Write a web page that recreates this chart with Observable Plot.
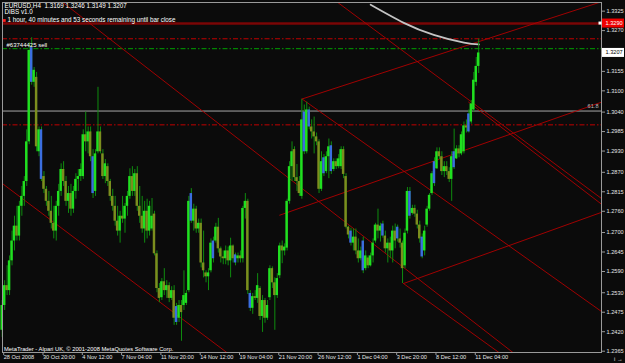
<!DOCTYPE html>
<html><head><meta charset="utf-8">
<script src="https://cdn.jsdelivr.net/npm/d3@7"></script>
<script src="https://cdn.jsdelivr.net/npm/@observablehq/plot@0.6"></script>
<style>
html,body{margin:0;padding:0;background:#0b0b0b;overflow:hidden;}
svg{display:block;}
</style></head><body>
<div id="chart"></div>
<script>
// EURUSD H4 bars, 28 Oct 2008 04:00 onwards (bar index = 4-hour bar number)
const opens = [
1.2424,1.2494,1.2550,1.2536,1.2620,1.2676,1.2718,1.2690,1.2774,1.2802,
1.2844,1.2956,1.3222,1.3124,1.3138,1.2928,1.2990,1.2858,1.2822,1.2788,
1.2760,1.2726,1.2704,1.2774,1.2816,1.2878,1.2844,1.2788,1.2810,1.2766,
1.2816,1.2850,1.2858,1.2858,1.2976,1.2956,1.2984,1.2914,1.2816,1.2928,
1.2984,1.2922,1.2858,1.2886,1.2844,1.2802,1.2774,1.2732,1.2704,1.2746,
1.2738,1.2774,1.2802,1.2858,1.2816,1.2866,1.2774,1.2746,1.2710,1.2760,
1.2704,1.2710,1.2752,1.2640,1.2542,1.2516,1.2561,1.2536,1.2550,1.2514,
1.2536,1.2491,1.2458,1.2494,1.2494,1.2500,1.2536,1.2810,1.2732,1.2766,
1.2710,1.2726,1.2614,1.2586,1.2575,1.2592,1.2676,1.2676,1.2715,1.2654,
1.2631,1.2626,1.2648,1.2620,1.2662,1.2637,1.2626,1.2634,1.2626,1.2768,
1.2788,1.2528,1.2486,1.2519,1.2514,1.2542,1.2463,1.2508,1.2458,1.2516,
1.2598,1.2558,1.2522,1.2578,1.2662,1.2648,1.2656,1.2788,1.2886,1.2934,
1.2855,1.2844,1.2802,1.3040,1.2928,1.3046,1.2998,1.2984,1.2970,1.2956,
1.2822,1.2911,1.2872,1.2914,1.2945,1.2878,1.2900,1.2886,1.2886,1.2934,
1.2858,1.2715,1.2704,1.2670,1.2687,1.2648,1.2626,1.2676,1.2598,1.2628,
1.2606,1.2634,1.2676,1.2721,1.2704,1.2724,1.2690,1.2654,1.2670,1.2648,
1.2704,1.2715,1.2682,1.2670,1.2606,1.2704,1.2816,1.2754,1.2768,1.2752,
1.2721,1.2687,1.2648,1.2721,1.2766,1.2810,1.2900,1.2880,1.2928,1.2914,
1.2872,1.2886,1.2872,1.2850,1.2928,1.2908,1.2936,1.2922,1.2928,1.3001,
1.3035,1.3012,1.3046,1.3124,1.3169];
const highs = [
1.2508,1.2564,1.2606,1.2634,1.2704,1.2746,1.2774,1.2788,1.2830,1.2858,
1.2990,1.3236,1.3250,1.3166,1.3152,1.2998,1.2998,1.2872,1.2830,1.2816,
1.2802,1.2774,1.2788,1.2836,1.2894,1.2900,1.2858,1.2830,1.2836,1.2830,
1.2866,1.2878,1.2894,1.2990,1.3040,1.2998,1.2998,1.2934,1.2934,1.3110,
1.2998,1.2934,1.2906,1.2894,1.2850,1.2822,1.2802,1.2774,1.2760,1.2802,
1.2782,1.2816,1.2880,1.2886,1.2878,1.2886,1.2830,1.2802,1.2788,1.2794,
1.2788,1.2796,1.2760,1.2648,1.2556,1.2570,1.2598,1.2564,1.2558,1.2547,
1.2550,1.2500,1.2508,1.2508,1.2592,1.2536,1.2802,1.2824,1.2780,1.2774,
1.2738,1.2738,1.2704,1.2592,1.2598,1.2682,1.2687,1.2726,1.2740,1.2659,
1.2648,1.2662,1.2659,1.2684,1.2665,1.2642,1.2642,1.2648,1.2774,1.2810,
1.2794,1.2536,1.2528,1.2536,1.2584,1.2547,1.2522,1.2514,1.2508,1.2606,
1.2603,1.2572,1.2584,1.2670,1.2676,1.2668,1.2794,1.2900,1.2956,1.2942,
1.2892,1.2858,1.3076,1.3060,1.3068,1.3054,1.3018,1.3026,1.2981,1.2962,
1.2928,1.2920,1.2928,1.2964,1.2956,1.2908,1.2908,1.2920,1.2942,1.2942,
1.2866,1.2718,1.2712,1.2710,1.2710,1.2682,1.2659,1.2687,1.2648,1.2634,
1.2642,1.2682,1.2726,1.2766,1.2726,1.2732,1.2704,1.2682,1.2687,1.2718,
1.2724,1.2721,1.2710,1.2676,1.2710,1.2827,1.2827,1.2777,1.2777,1.2763,
1.2732,1.2696,1.2718,1.2774,1.2810,1.2872,1.2911,1.2939,1.2939,1.2928,
1.2900,1.2900,1.2883,1.2928,1.2992,1.2945,1.2945,1.2984,1.3012,1.3018,
1.3046,1.3073,1.3152,1.3194,1.3246];
const lows = [
1.2404,1.2480,1.2522,1.2522,1.2606,1.2648,1.2676,1.2676,1.2746,1.2774,
1.2830,1.2948,1.3116,1.3110,1.2928,1.2914,1.2844,1.2810,1.2774,1.2746,
1.2710,1.2682,1.2676,1.2746,1.2802,1.2830,1.2774,1.2754,1.2746,1.2754,
1.2794,1.2816,1.2844,1.2850,1.2928,1.2922,1.2900,1.2796,1.2802,1.2922,
1.2922,1.2850,1.2838,1.2830,1.2788,1.2760,1.2718,1.2690,1.2670,1.2726,
1.2698,1.2746,1.2794,1.2802,1.2802,1.2760,1.2726,1.2698,1.2670,1.2682,
1.2690,1.2704,1.2634,1.2530,1.2502,1.2508,1.2522,1.2514,1.2502,1.2508,
1.2438,1.2438,1.2446,1.2393,1.2480,1.2494,1.2530,1.2726,1.2704,1.2698,
1.2698,1.2600,1.2572,1.2558,1.2536,1.2586,1.2614,1.2670,1.2642,1.2614,
1.2609,1.2609,1.2606,1.2572,1.2614,1.2606,1.2614,1.2614,1.2614,1.2738,
1.2525,1.2477,1.2469,1.2508,1.2500,1.2452,1.2418,1.2444,1.2452,1.2508,
1.2542,1.2424,1.2514,1.2570,1.2612,1.2634,1.2648,1.2780,1.2844,1.2844,
1.2816,1.2802,1.2794,1.2920,1.2922,1.2990,1.2964,1.2922,1.2945,1.2810,
1.2816,1.2858,1.2866,1.2852,1.2864,1.2872,1.2878,1.2880,1.2878,1.2852,
1.2710,1.2682,1.2662,1.2648,1.2637,1.2614,1.2620,1.2584,1.2592,1.2598,
1.2603,1.2614,1.2670,1.2682,1.2673,1.2684,1.2642,1.2614,1.2626,1.2614,
1.2654,1.2673,1.2656,1.2556,1.2598,1.2696,1.2738,1.2749,1.2743,1.2710,
1.2670,1.2626,1.2634,1.2715,1.2760,1.2805,1.2830,1.2878,1.2906,1.2861,
1.2855,1.2861,1.2841,1.2788,1.2878,1.2906,1.2911,1.2917,1.2922,1.2981,
1.2981,1.3006,1.3040,1.3113,1.3149];
const closes = [
1.2494,1.2550,1.2536,1.2620,1.2676,1.2718,1.2690,1.2774,1.2802,1.2844,
1.2956,1.3214,1.3124,1.3158,1.2942,1.2990,1.2850,1.2822,1.2788,1.2760,
1.2726,1.2704,1.2774,1.2816,1.2878,1.2844,1.2788,1.2810,1.2766,1.2816,
1.2850,1.2858,1.2878,1.2976,1.2956,1.2984,1.2914,1.2810,1.2922,1.2984,
1.2928,1.2858,1.2894,1.2844,1.2802,1.2774,1.2732,1.2704,1.2746,1.2738,
1.2774,1.2802,1.2858,1.2816,1.2866,1.2774,1.2746,1.2710,1.2760,1.2704,
1.2774,1.2746,1.2640,1.2542,1.2514,1.2561,1.2536,1.2550,1.2514,1.2536,
1.2458,1.2446,1.2494,1.2474,1.2522,1.2528,1.2788,1.2732,1.2766,1.2710,
1.2726,1.2614,1.2592,1.2575,1.2586,1.2670,1.2626,1.2715,1.2654,1.2631,
1.2626,1.2648,1.2620,1.2662,1.2626,1.2614,1.2634,1.2626,1.2768,1.2788,
1.2536,1.2486,1.2519,1.2514,1.2550,1.2463,1.2508,1.2458,1.2494,1.2598,
1.2558,1.2522,1.2570,1.2662,1.2648,1.2659,1.2788,1.2886,1.2928,1.2855,
1.2844,1.2810,1.3018,1.2928,1.3046,1.2998,1.2984,1.2970,1.2956,1.2822,
1.2900,1.2866,1.2914,1.2942,1.2872,1.2900,1.2886,1.2908,1.2934,1.2864,
1.2715,1.2693,1.2670,1.2687,1.2648,1.2626,1.2648,1.2592,1.2634,1.2606,
1.2634,1.2670,1.2721,1.2704,1.2718,1.2690,1.2654,1.2670,1.2648,1.2704,
1.2676,1.2682,1.2670,1.2598,1.2698,1.2816,1.2746,1.2768,1.2752,1.2721,
1.2682,1.2631,1.2704,1.2766,1.2805,1.2866,1.2838,1.2928,1.2914,1.2872,
1.2886,1.2872,1.2850,1.2914,1.2883,1.2936,1.2922,1.2976,1.3001,1.2995,
1.2984,1.3063,1.3130,1.3169,1.3207];
// bars highlighted blue by the DIBS indicator
const dibsBars = [12,16,37,71,77,86,95,101,123,125,131,134,142,147,155,161,166,171,176,184,190];

// time axis labels (every 16 bars)
const xTickIdx = [0,16,32,48,64,80,96,112,128,144,160,176,192];
const xTickLabels = ["28 Oct 2008","30 Oct 20:00","4 Nov 12:00","7 Nov 04:00","11 Nov 20:00","14 Nov 12:00","19 Nov 04:00","21 Nov 20:00","26 Nov 12:00","1 Dec 04:00","3 Dec 20:00","8 Dec 12:00","11 Dec 04:00"];
// price axis labels
const yTicks = [1.2365,1.2420,1.2475,1.2530,1.2590,1.2645,1.2700,1.2760,1.2815,1.2870,1.2930,1.2985,1.3040,1.3100,1.3155,1.3270,1.3325];

// trend lines: anchor 1 (bar, price) -> anchor 2 (bar, price), drawn as rays to the right
const trendT1 = [25.0, 0.12, 136.9, 189.9, 122.1, 122.1, 113.0, 163.4, 163.4];
const trendP1 = [1.3348, 1.2838, 1.3348, 1.3068, 1.3077, 1.3077, 1.2749, 1.2556, 1.2556];
const trendT2 = [207.8, 91.7, 244.0, 244.0, 244.0, 240.2, 244.0, 244.0, 202.1];
const trendP2 = [1.2362, 1.2360, 1.2796, 1.2780, 1.2477, 1.3343, 1.3068, 1.2757, 1.2362];

// horizontal levels
const levelSelected = 1.3290;   // thick line, red price tag
const levelStop = [1.3247, 1.3004]; // red dash-dot
const levelOrder = 1.3219;       // green dash-dot (#63744425 sell)
const levelFib = 1.3043;         // 61.8 line
const currentPrice = 1.3207;

// grey indicator curve
const curveT = [150.0, 163.5, 175.7, 188.0, 194.1];
const curveP = [1.3343, 1.3292, 1.3258, 1.3236, 1.3231];

const bars = opens.map((o, i) => ({i, o, h: highs[i], l: lows[i], c: closes[i], blue: dibsBars.includes(i)}));
const bodyFill = d => d.blue ? "#3b6ee0" : (d.c >= d.o ? "#20e020" : "#7c8e1e");

const rightEdge = 250;
const trendSegs = [];
trendT1.forEach((t1, k) => {
  const slope = (trendP2[k] - trendP1[k]) / (trendT2[k] - t1);
  trendSegs.push({id: k, i: t1, p: trendP1[k]});
  trendSegs.push({id: k, i: rightEdge, p: trendP1[k] + slope * (rightEdge - t1)});
});
const curve = curveT.map((t, k) => ({i: t, p: curveP[k]}));

const font = "Liberation Sans, Arial, sans-serif";
const chart = Plot.plot({
  width: 625, height: 363,
  marginLeft: 2, marginRight: 24, marginTop: 2, marginBottom: 11,
  style: {background: "#0b0b0b", color: "#e6e6e6", fontFamily: font, fontSize: "5.6px"},
  x: {domain: [0.122, 244.0], axis: null},
  y: {domain: [1.23613, 1.33494], axis: null},
  marks: [
    Plot.ruleY([levelSelected], {stroke: "#7a0606", strokeWidth: 2.4}),
    Plot.ruleY(levelStop, {stroke: "#c00000", strokeWidth: 1, strokeDasharray: "5,2,1.5,2"}),
    Plot.ruleY([levelOrder], {stroke: "#00a000", strokeWidth: 1, strokeDasharray: "5,2,1.5,2"}),
    Plot.ruleY([levelFib], {stroke: "#a8a8a8", strokeWidth: 1}),
    Plot.line(trendSegs, {x: "i", y: "p", z: "id", stroke: "#b00000", strokeWidth: 0.9, clip: true}),
    Plot.line(curve, {x: "i", y: "p", stroke: "#c4c4c4", strokeWidth: 1.8, curve: "natural", clip: true}),
    Plot.ruleX(bars, {x: "i", y1: "l", y2: "h", stroke: "#0f8c0f", strokeWidth: 1}),
    Plot.rect(bars, {
      x1: d => d.i - 0.5, x2: d => d.i + 0.5,
      y1: d => Math.min(d.o, d.c),
      y2: d => Math.max(d.o, d.c, Math.min(d.o, d.c) + 0.0002),
      fill: bodyFill
    }),
    Plot.frame({stroke: "#9a9a9a"}),
    Plot.axisY(yTicks, {anchor: "right", tickSize: 3, tickPadding: 2, tickFormat: d => d.toFixed(4), fontSize: 5.6, stroke: "#9a9a9a", fill: "#e6e6e6"}),
    Plot.axisX(xTickIdx, {anchor: "bottom", tickSize: 3, tickPadding: 0, tickFormat: d => xTickLabels[xTickIdx.indexOf(d)], textAnchor: "start", dx: 1.5, fontSize: 5.6, stroke: "#9a9a9a", fill: "#e6e6e6"}),
    Plot.text([levelFib], {y: d => d, frameAnchor: "right", text: () => "61.8", textAnchor: "end", dx: -3, dy: -5, fill: "#bdbdbd", fontSize: 5.6}),
    Plot.text([levelOrder], {y: d => d, frameAnchor: "left", text: () => "#63744425 sell", textAnchor: "start", dx: 4, dy: -4, fill: "#ffffff", fontSize: 6}),
    Plot.text(["EURUSD,H4  1.3169 1.3246 1.3149 1.3207"], {frameAnchor: "top-left", text: d => d, dx: 2, dy: 1, lineAnchor: "top", fill: "#ffffff", fontSize: 6.3}),
    Plot.text(["DIBS v1.0"], {frameAnchor: "top-left", text: d => d, dx: 2, dy: 7.5, lineAnchor: "top", fill: "#ffffff", fontSize: 6.3}),
    Plot.dot([0], {frameAnchor: "top-left", symbol: "square", r: 1.6, fill: "#ff2020", dx: 1.8, dy: 18}),
    Plot.text(["1 hour, 40 minutes and 53 seconds remaining until bar close"], {frameAnchor: "top-left", text: d => d, dx: 5, dy: 15, lineAnchor: "top", fill: "#ffffff", fontSize: 6.3}),
    Plot.text(["MetaTrader - Alpari UK, © 2001-2008 MetaQuotes Software Corp."], {frameAnchor: "bottom-left", text: d => d, dx: 1.5, dy: -2, lineAnchor: "bottom", fill: "#ffffff", fontSize: 5.8})
  ]
});
document.getElementById("chart").appendChild(chart);

// price tags on the right axis, placed with the chart's own y scale
const ys = chart.scale("y");
const svg = d3.select(chart);
function priceTag(p, bg, fg) {
  const yy = ys.apply(p);
  const g = svg.append("g").attr("font-family", font).attr("font-size", 5.6).attr("text-anchor", "start");
  g.append("rect").attr("x", 602).attr("y", yy - 4.5).attr("width", 22).attr("height", 9).attr("fill", bg);
  g.append("text").attr("x", 605.5).attr("y", yy).attr("dy", "0.35em").attr("text-anchor", "start").attr("fill", fg).text(p.toFixed(4));
}
priceTag(levelSelected, "#ee0000", "#ffffff");
priceTag(currentPrice, "#ffffff", "#000000");
svg.append("rect").attr("x", 598.5).attr("y", ys.apply(levelSelected) - 1.5).attr("width", 3).attr("height", 3).attr("fill", "#ffffff");
</script>
</body></html>
